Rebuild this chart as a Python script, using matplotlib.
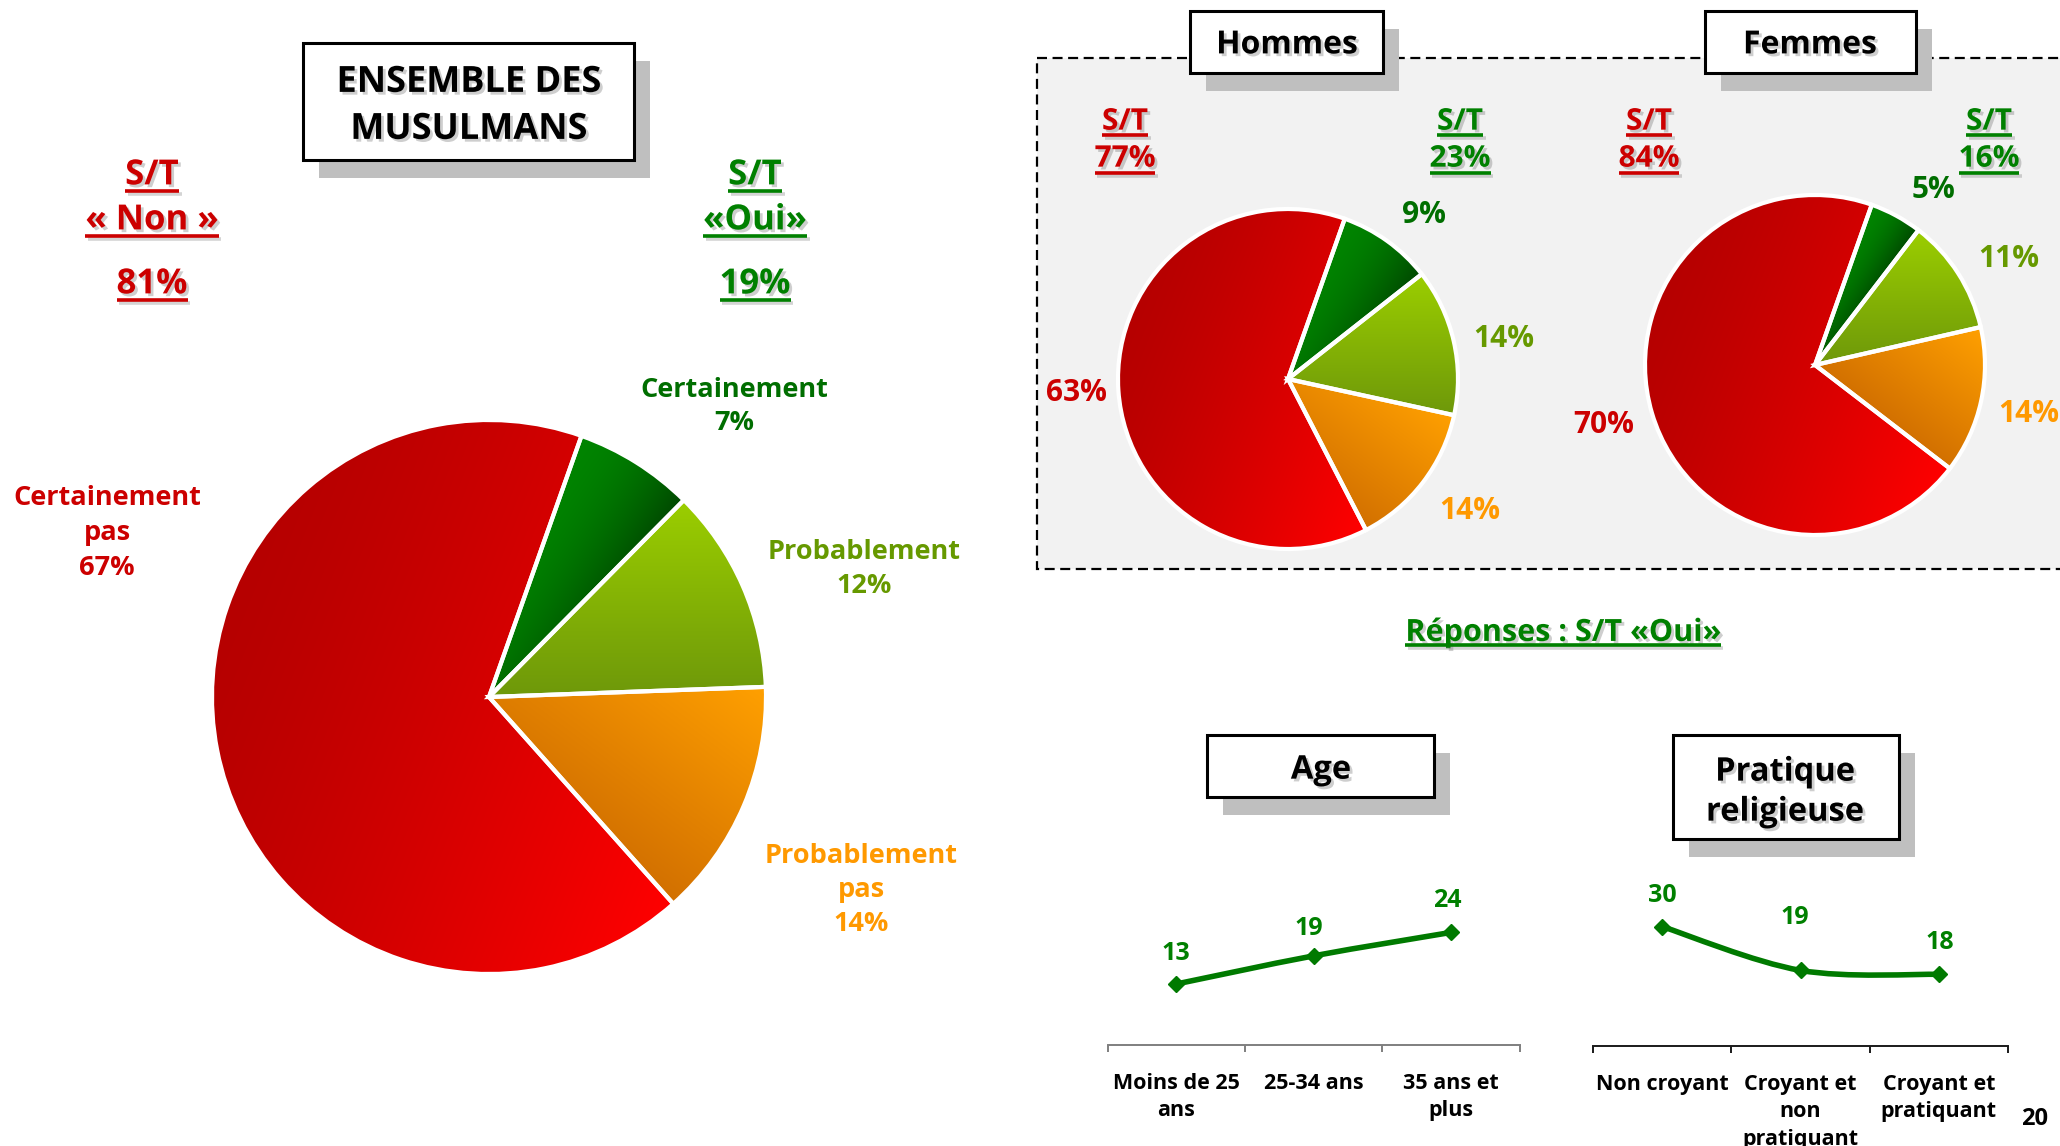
import numpy as np
import matplotlib
matplotlib.use("Agg")
import matplotlib.pyplot as plt
import matplotlib.patheffects as pe
from matplotlib.patches import Rectangle, PathPatch
from matplotlib.path import Path
from matplotlib.colors import to_rgb

plt.rcParams['font.family'] = ['Open Sans', 'DejaVu Sans']
plt.rcParams['font.weight'] = 'bold'

# ---------------- data ----------------
slice_names = ['Certainement', 'Probablement', 'Probablement pas', 'Certainement pas']
ensemble = [7, 12, 14, 67]
hommes = [9, 14, 14, 63]
femmes = [5, 11, 14, 70]
st_ensemble = [81, 19]   # S/T Non, S/T Oui
st_hommes = [77, 23]
st_femmes = [84, 16]
age_cats = ['Moins de 25\nans', '25-34 ans', '35 ans et\nplus']
age_vals = [13, 19, 24]
prat_cats = ['Non croyant', 'Croyant et\nnon\npratiquant', 'Croyant et\npratiquant']
prat_vals = [30, 19, 18]

# ---------------- styles ----------------
W, H = 2060, 1146
RED = '#cc0000'
GREEN = '#008000'
slice_text_colors = ['#006e00', '#669900', '#ff9900', '#cc0000']
# gradient (start colour, end colour, direction, gamma) for each slice
slice_grads = [('#008400', '#004800', (0.83, -0.55), 1.8),
               ('#9bce00', '#6e980a', (0.0, -1.0), 1.0),
               ('#ffa000', '#d27000', (-0.6, -0.8), 1.0),
               ('#b60000', '#ff0000', (1.0, -0.4), 1.3)]
START = 70.5

fig = plt.figure(figsize=(W / 100, H / 100), dpi=100)
fig.patch.set_facecolor('white')


def fx(x):
    return x / W


def fy(y):
    return 1 - y / H


shadow = [pe.withSimplePatchShadow(offset=(2, -2), shadow_rgbFace='0.45', alpha=0.35)]

# background axes (dashed panel)
bg = fig.add_axes([0, 0, 1, 1], zorder=0)
bg.set_xlim(0, W)
bg.set_ylim(H, 0)
bg.axis('off')
bg.add_patch(Rectangle((1037, 58), 1060, 511, facecolor='#f2f2f2', edgecolor='black',
                       lw=1.6, linestyle=(0, (4.5, 2.5))))

# overlay axes for boxes and texts
ov = fig.add_axes([0, 0, 1, 1], zorder=10)
ov.set_xlim(0, W)
ov.set_ylim(H, 0)
ov.axis('off')

N = 500
_g = np.linspace(-1, 1, N)
GX, GY = np.meshgrid(_g, _g)
GR = np.hypot(GX, GY)
GA = np.degrees(np.arctan2(GY, GX)) % 360


def add_pie(cx, cy, r, vals, lw):
    ax = fig.add_axes([fx(cx - r), fy(cy + r), 2 * r / W, 2 * r / H], zorder=2)
    wedges, _ = ax.pie(vals, startangle=START, counterclock=False, radius=1,
                       wedgeprops=dict(facecolor='none', edgecolor='white',
                                       linewidth=lw, zorder=3))
    for w, (c0, c1, d, gam) in zip(wedges, slice_grads):
        span = w.theta2 - w.theta1
        rel = (GA - w.theta1) % 360
        mask = (rel <= span) & (GR <= 1)
        d = np.array(d) / np.hypot(*d)
        T = GX * d[0] + GY * d[1]
        tmin, tmax = T[mask].min(), T[mask].max()
        Tn = (np.clip((T - tmin) / (tmax - tmin), 0, 1) ** gam)[..., None]
        img = (1 - Tn) * np.array(to_rgb(c0)) + Tn * np.array(to_rgb(c1))
        im = ax.imshow(img, extent=(-1, 1, -1, 1), origin='lower',
                       interpolation='bilinear', zorder=1)
        im.set_clip_path(w)
    ax.set_xlim(-1, 1)
    ax.set_ylim(-1, 1)
    ax.set_aspect('equal')
    ax.axis('off')
    return ax


add_pie(489, 697, 277, ensemble, 3.0)
add_pie(1288, 379, 170, hommes, 3.0)
add_pie(1815, 365, 170, femmes, 3.0)


def txt(x, yc, s, size, color='black', eff=None, ha='center'):
    em = size * 100 / 72
    return ov.text(x, yc + 0.357 * em, s, fontsize=size, color=color, ha=ha,
                   va='baseline', fontweight='bold', path_effects=eff, zorder=5)


underlines = []


def ul_txt(x, yc, s, size, color, uy, lw=2.6):
    t = txt(x, yc, s, size, color, eff=shadow)
    underlines.append((t, uy, color, lw))
    return t


def box(x0, y0, x1, y1, off=(16, 18)):
    ov.add_patch(Rectangle((x0 + off[0], y0 + off[1]), x1 - x0, y1 - y0,
                           facecolor='#bfbfbf', edgecolor='none', zorder=1))
    ov.add_patch(Rectangle((x0, y0), x1 - x0, y1 - y0, facecolor='white',
                           edgecolor='black', lw=2.2, zorder=2))


# ---- title boxes ----
box(303, 43, 634, 160)
txt(469, 79, 'ENSEMBLE DES', 26, eff=shadow)
txt(469, 126, 'MUSULMANS', 26, eff=shadow)
box(1190, 11, 1383, 73)
txt(1287, 42, 'Hommes', 23, eff=shadow)
box(1705, 11, 1916, 73)
txt(1810, 42, 'Femmes', 23, eff=shadow)
box(1207, 735, 1434, 797)
txt(1321, 767, 'Age', 23.5, eff=shadow)
box(1673, 735, 1899, 839)
txt(1785, 769, 'Pratique', 23.5, eff=shadow)
txt(1785, 809, 'religieuse', 23.5, eff=shadow)

# ---- S/T for whole sample ----
ul_txt(152, 172, 'S/T', 25, RED, 191)
ul_txt(152, 217, '« Non »', 25, RED, 236)
ul_txt(152, 281, f'{st_ensemble[0]}%', 25, RED, 300)
ul_txt(755, 172, 'S/T', 25, GREEN, 191)
ul_txt(755, 217, '«Oui»', 25, GREEN, 236)
ul_txt(755, 281, f'{st_ensemble[1]}%', 25, GREEN, 300)

# ---- S/T for men / women ----
for (xr, xg, vals) in [(1125, 1460, st_hommes), (1649, 1989, st_femmes)]:
    ul_txt(xr, 119, 'S/T', 21.5, RED, 135)
    ul_txt(xr, 156, f'{vals[0]}%', 21.5, RED, 173)
    ul_txt(xg, 119, 'S/T', 21.5, GREEN, 135)
    ul_txt(xg, 156, f'{vals[1]}%', 21.5, GREEN, 173)

# ---- main pie labels ----
main_label_pos = [(734, 387, 33), (864, 549, 34), (861, 853, 34), (107, 495, 35)]
for name, v, col, (x, y, sp) in zip(slice_names, ensemble, slice_text_colors, main_label_pos):
    lines = name.split(' ') + [f'{v}%']
    for i, ln in enumerate(lines):
        txt(x, y + i * sp, ln, 19.5, col)

# ---- small pie labels ----
hom_pos = [(1424, 212), (1504, 336), (1470, 508), (1076, 390)]
fem_pos = [(1933, 187), (2009, 256), (2029, 411), (1604, 422)]
for vals, pos in [(hommes, hom_pos), (femmes, fem_pos)]:
    for v, col, (x, y) in zip(vals, slice_text_colors, pos):
        txt(x, y, f'{v}%', 21.5, col)

ul_txt(1563, 630, 'Réponses : S/T «Oui»', 22, GREEN, 645)
txt(2035, 1117, '20', 17)


# ---- line charts ----
def smooth_path(xs, ys):
    P = np.column_stack([xs, ys]).astype(float)
    n = len(P)
    verts = [P[0]]
    codes = [Path.MOVETO]
    for i in range(n - 1):
        p0 = P[i - 1] if i > 0 else P[i]
        p3 = P[i + 2] if i + 2 < n else P[i + 1]
        c1 = P[i] + (P[i + 1] - p0) / 6
        c2 = P[i + 1] - (p3 - P[i]) / 6
        verts += [c1, c2, P[i + 1]]
        codes += [Path.CURVE4] * 3
    return Path(verts, codes)


def line_chart(x0, x1, ybase, ppu, cats, vals, spine_color, lab_off):
    ymax = 40
    h = ymax * ppu
    ax = fig.add_axes([fx(x0), fy(ybase), (x1 - x0) / W, h / H], zorder=3)
    ax.patch.set_alpha(0)
    n = len(vals)
    xs = np.arange(n)
    ax.set_xlim(-0.5, n - 0.5)
    ax.set_ylim(0, ymax)
    ax.add_patch(PathPatch(smooth_path(xs, vals), fill=False, edgecolor='#007a00',
                           lw=4.0, capstyle='round', joinstyle='round'))
    ax.plot(xs, vals, ls='none', marker='D', ms=8, color='#007a00')
    for i, v in enumerate(vals):
        dx, dy = lab_off[i]
        ax.annotate(f'{v}', (i, v), xytext=(dx * 0.72, (dy - 9) * 0.72),
                    textcoords='offset points', ha='center', va='baseline',
                    fontsize=18, fontweight='bold', color=GREEN)
    for sp in ['top', 'left', 'right']:
        ax.spines[sp].set_visible(False)
    ax.spines['bottom'].set_color(spine_color)
    ax.spines['bottom'].set_linewidth(1.4)
    ax.set_yticks([])
    ax.set_xticks(np.arange(-0.5, n, 1.0))
    ax.set_xticklabels([''] * (n + 1))
    ax.tick_params(axis='x', which='major', length=5, width=1.4, color=spine_color,
                   direction='out')
    ax.set_xticks(xs, minor=True)
    ax.set_xticklabels(cats, minor=True, fontsize=15.5, fontweight='bold', linespacing=1.4)
    ax.tick_params(axis='x', which='minor', length=0, pad=20)
    return ax


line_chart(1107.5, 1519.5, 1045, 4.69, age_cats, age_vals, '#7f7f7f',
           [(0, 33), (-5, 30), (-4, 34)])
line_chart(1593, 2008, 1046, 3.98, prat_cats, prat_vals, '#1a1a1a',
           [(0, 34), (-6, 55), (1, 34)])

# ---- underlines ----
fig.canvas.draw()
rend = fig.canvas.get_renderer()
for t, uy, col, lw in underlines:
    bb = t.get_window_extent(rend)
    ov.plot([bb.x0, bb.x1], [uy, uy], color=col, lw=lw, solid_capstyle='butt', zorder=5,
            path_effects=[pe.SimpleLineShadow(offset=(2, -2), shadow_color='0.45', alpha=0.3),
                          pe.Normal()])

fig.savefig('out.png', dpi=100, facecolor='white')
